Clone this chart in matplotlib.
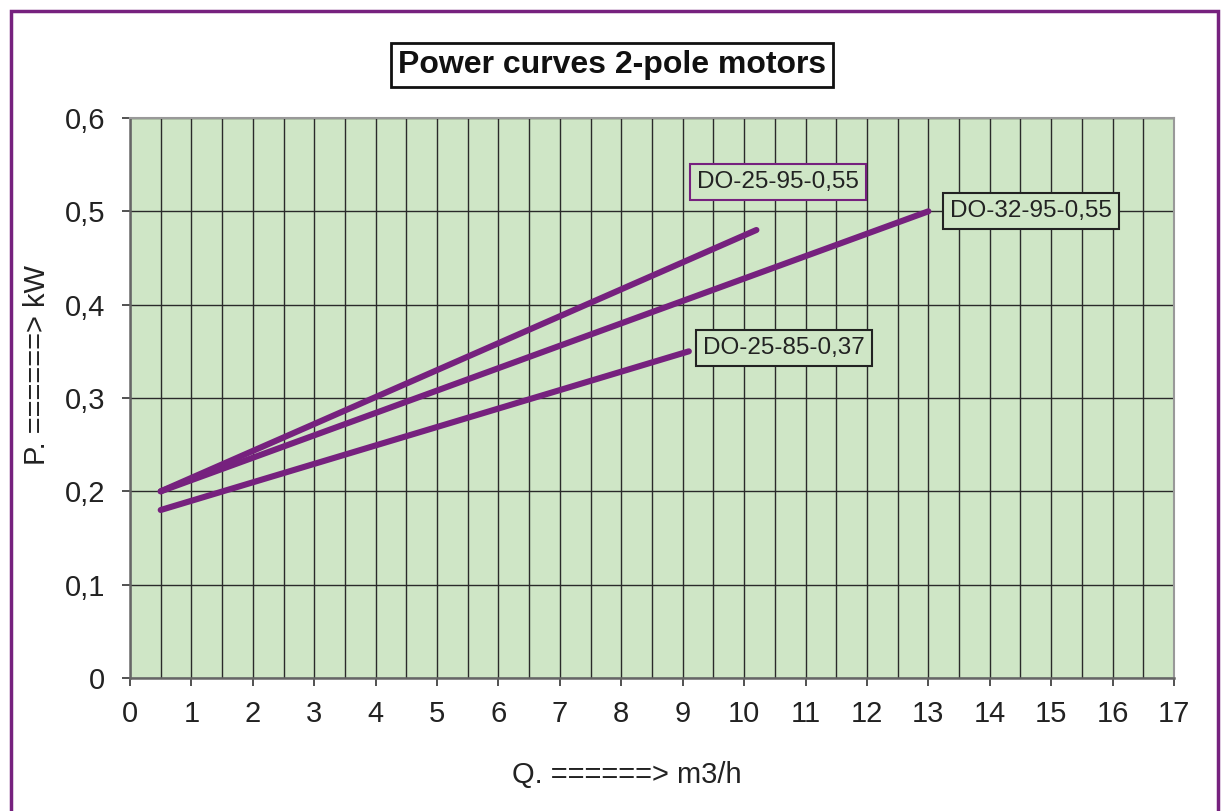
import matplotlib
matplotlib.use("Agg")
import matplotlib.pyplot as plt
from matplotlib.patches import Rectangle
import numpy as np

plt.rcParams['font.family'] = ['Liberation Sans', 'DejaVu Sans']

title = "Power curves 2-pole motors"
xlabel = "Q. ======> m3/h"
ylabel = "P. ======> kW"
series_names = ["DO-25-95-0,55", "DO-32-95-0,55", "DO-25-85-0,37"]
q_25_95 = [0.5, 10.2]
p_25_95 = [0.20, 0.48]
q_32_95 = [0.5, 13.0]
p_32_95 = [0.20, 0.50]
q_25_85 = [0.5, 9.1]
p_25_85 = [0.18, 0.35]
x_ticks = list(range(0, 18))
y_ticks = [0, 0.1, 0.2, 0.3, 0.4, 0.5, 0.6]
y_tick_labels = ["0", "0,1", "0,2", "0,3", "0,4", "0,5", "0,6"]

W, H = 1225, 811
fig = plt.figure(figsize=(W/100, H/100), dpi=100)
ax = fig.add_axes([130/W, 1-678/H, (1174-130)/W, (678-118)/H])
ax.set_facecolor("#CFE6C6")

purple = "#76217E"
for q, p in [(q_25_95, p_25_95), (q_32_95, p_32_95), (q_25_85, p_25_85)]:
    ax.plot(q, p, color=purple, lw=4.4, solid_capstyle='round', zorder=3)

ax.set_xlim(0, 17)
ax.set_ylim(0, 0.6)
ax.set_xticks(x_ticks)
ax.set_xticklabels([str(t) for t in x_ticks], fontsize=21, color="#222222")
ax.set_yticks(y_ticks)
ax.set_yticklabels(y_tick_labels, fontsize=21, color="#222222")
ax.set_xticks(np.arange(0.5, 17, 1.0), minor=True)
ax.tick_params(axis='both', which='major', direction='out', length=6, width=1.2, color="#333333")
ax.tick_params(axis='x', which='major', pad=10)
ax.tick_params(axis='y', which='major', pad=12)
ax.tick_params(axis='x', which='minor', length=0)
ax.grid(True, which='both', axis='x', color="#2a2a2a", lw=1.0)
ax.grid(True, which='major', axis='y', color="#2a2a2a", lw=1.0)
ax.set_axisbelow(True)
for s in ['top', 'right']:
    ax.spines[s].set_color("#999999")
    ax.spines[s].set_linewidth(1.5)
for s in ['left', 'bottom']:
    ax.spines[s].set_color("#666666")
    ax.spines[s].set_linewidth(1.8)

def label(text, xpix, ypix, edge):
    fig.text(xpix/W, 1-ypix/H, text, fontsize=17.5, color="#222222", ha='left', va='center',
             bbox=dict(boxstyle='square,pad=0.3', fc="#CFE6C6", ec=edge, lw=1.5), zorder=5)
label(series_names[0], 697, 182, purple)
label(series_names[1], 950, 211, "#222222")
label(series_names[2], 703, 348, "#222222")

fig.text(612/W, 1-65/H, title, fontsize=23, fontweight='bold', ha='center', va='center',
         color="#111111", bbox=dict(boxstyle='square,pad=0.22', fc='white', ec='#111111', lw=2))
fig.text(627/W, 1-775/H, xlabel, fontsize=21, ha='center', va='center', color="#222222")
fig.text(37/W, 1-365/H, ylabel, fontsize=21, ha='center', va='center', rotation=90, color="#222222")

fig.patches.append(Rectangle((11/W, -0.02), (1218-11)/W, 1-11/H+0.02, transform=fig.transFigure,
                             fill=False, ec=purple, lw=2.5))

fig.savefig("out.png", dpi=100)
